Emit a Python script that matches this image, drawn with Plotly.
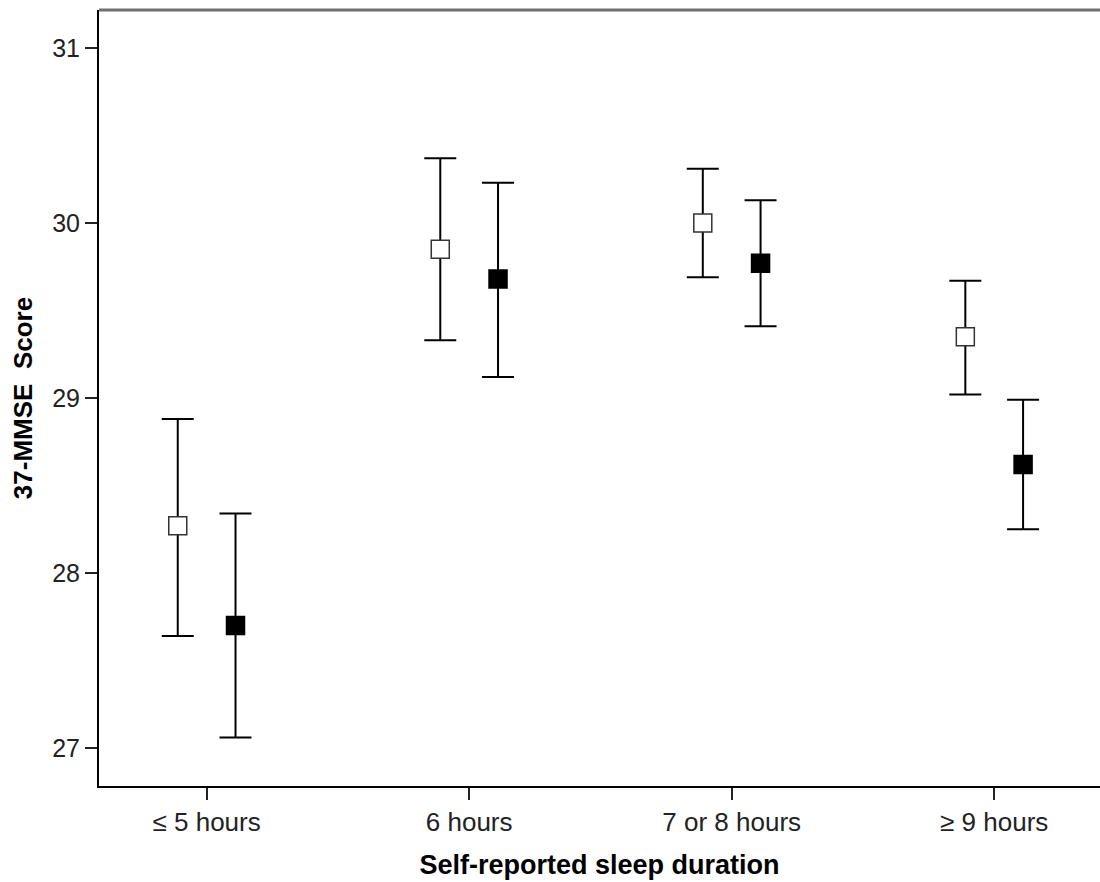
import plotly.graph_objects as go

categories = ["≤ 5 hours", "6 hours", "7 or 8 hours", "≥ 9 hours"]
open_mean = [28.27, 29.85, 30.00, 29.35]
open_lo = [27.64, 29.33, 29.69, 29.02]
open_hi = [28.88, 30.37, 30.31, 29.67]
filled_mean = [27.70, 29.68, 29.77, 28.62]
filled_lo = [27.06, 29.12, 29.41, 28.25]
filled_hi = [28.34, 30.23, 30.13, 28.99]
y_ticks = [27, 28, 29, 30, 31]

offset = 0.11
idx = list(range(len(categories)))

fig = go.Figure()

def add_series(means, lo, hi, xs, fill, line_color):
    fig.add_trace(go.Scatter(
        x=xs, y=means, mode="markers",
        marker=dict(symbol="square", size=18, color=fill,
                    line=dict(color=line_color, width=1.5)),
        error_y=dict(type="data", symmetric=False,
                     array=[h - m for h, m in zip(hi, means)],
                     arrayminus=[m - l for m, l in zip(means, lo)],
                     color="black", thickness=2, width=16),
        showlegend=False, hoverinfo="skip",
    ))

add_series(open_mean, open_lo, open_hi, [i - offset for i in idx], "white", "#333333")
add_series(filled_mean, filled_lo, filled_hi, [i + offset for i in idx], "black", "black")

font = "Liberation Sans, Arial, sans-serif"

fig.update_layout(
    width=1100, height=882,
    margin=dict(l=99, r=0, t=10, b=96),
    paper_bgcolor="white", plot_bgcolor="white",
    font=dict(family=font, color="#222222", size=26),
    xaxis=dict(
        range=[-0.41, 3.403], tickmode="array", tickvals=idx, ticktext=categories,
        showgrid=False, zeroline=False, showline=True, linecolor="black", linewidth=2,
        ticks="outside", ticklen=12, tickwidth=2, tickcolor="#222222",
        tickfont=dict(size=26, family=font), automargin=False,
        title=dict(text="<b>Self-reported sleep duration</b>", font=dict(size=27, family=font, color="black"),
                   standoff=19),
    ),
    yaxis=dict(
        range=[26.783, 31.217], tickmode="array", tickvals=y_ticks,
        showgrid=False, zeroline=False, showline=True, linecolor="black", linewidth=2,
        ticks="outside", ticklen=12, tickwidth=2, tickcolor="#222222",
        tickfont=dict(size=25, family=font), automargin=False,
        title=dict(text="<b>37-MMSE  Score</b>", font=dict(size=26, family=font, color="black"),
                   standoff=12),
    ),
    shapes=[dict(type="line", xref="paper", yref="paper", x0=0, x1=1, y0=1, y1=1,
                 line=dict(color="#707070", width=3))],
)

fig.write_html(
    "out.html",
    config={"displayModeBar": False},
    post_script="document.body.style.margin='0';document.body.style.overflow='hidden';",
)
